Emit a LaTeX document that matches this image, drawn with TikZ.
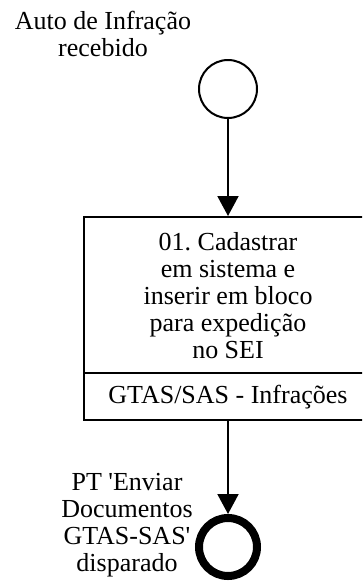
\documentclass[tikz,border=0pt]{standalone}
\usepackage{fontspec}
\setmainfont{Liberation Serif}
\usetikzlibrary{arrows.meta}

\begin{document}
\begin{tikzpicture}[x=1pt, y=-1pt,
    txt/.style={black, align=center, inner sep=0pt, font=\fontsize{26}{27}\selectfont\frenchspacing},
    flow/.style={-{Triangle[length=20pt,width=21pt]}, line width=2pt},
    boxline/.style={line width=2pt}]
  % page frame
  \path[use as bounding box] (0,0) rectangle (362,581);
  \clip (0,0) rectangle (362,581);
  % start event
  \node[draw, circle, line width=2pt, minimum size=58pt, inner sep=0pt] (start) at (228,89) {};
  \node[txt] (startlabel) at (103,34) {Auto de Infração\\recebido};
  % task box, cut at the right edge
  \node[draw, boxline, rectangle, minimum width=288pt, minimum height=203pt, inner sep=0pt] (task) at (228,318.5) {};
  \draw[boxline] ([yshift=48pt]task.south west) -- ([yshift=48pt]task.south east);
  \node[txt] (tasklabel) at (228,296) {01. Cadastrar\\em sistema e\\inserir em bloco\\para expedição\\no SEI};
  \node[txt] (lane) at (228,397) {GTAS/SAS - Infrações};
  % end event
  \node[draw, circle, line width=8pt, minimum size=58pt, inner sep=0pt] (end) at (228,547) {};
  \node[txt] (endlabel) at (127,525) {PT \textquotesingle Enviar\\Documentos\\GTAS-SAS\textquotesingle\\disparado};
  \draw[flow] (start) -- (task);
  \draw[flow] (task) -- (end);
\end{tikzpicture}
\end{document}
